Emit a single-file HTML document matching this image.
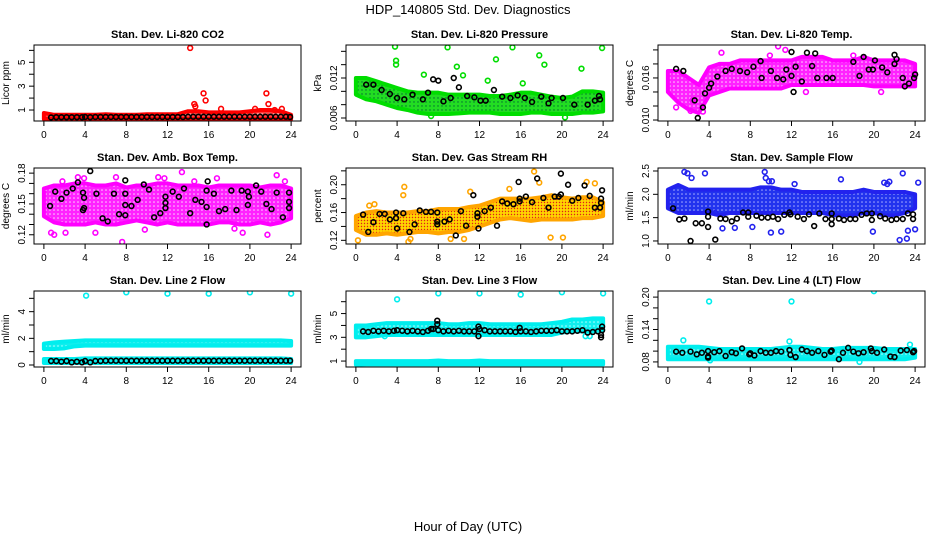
<!DOCTYPE html>
<html><head><meta charset="utf-8"><style>
html,body{margin:0;padding:0;background:#fff;}
svg{display:block;font-family:"Liberation Sans",sans-serif;}
</style></head><body>
<svg id="chart" width="936" height="540" viewBox="0 0 936 540">
<defs>
<pattern id="pt-red" width="4" height="4" patternUnits="userSpaceOnUse"><rect width="4" height="4" fill="#ff4040"/><circle cx="2" cy="2" r="0.8" fill="#fff"/></pattern>
<pattern id="pt-green" width="4" height="4" patternUnits="userSpaceOnUse"><rect width="4" height="4" fill="#22dd22"/><circle cx="2" cy="2" r="0.7" fill="#063"/></pattern>
<pattern id="pt-mag" width="4" height="4" patternUnits="userSpaceOnUse"><rect width="4" height="4" fill="#ff22ff"/><circle cx="2" cy="2" r="0.8" fill="#fbd6fb"/></pattern>
<pattern id="pt-rh" width="3" height="3" patternUnits="userSpaceOnUse"><rect width="3" height="3" fill="#ffd400"/><circle cx="1.5" cy="1.5" r="0.7" fill="#e0201a"/></pattern>
<pattern id="pt-blue" width="4" height="4" patternUnits="userSpaceOnUse"><rect width="4" height="4" fill="#2233ee"/><circle cx="2" cy="2" r="0.8" fill="#aab0ff"/></pattern>
<pattern id="pt-cyan" width="4" height="4" patternUnits="userSpaceOnUse"><rect width="4" height="4" fill="#11eeee"/><circle cx="2" cy="2" r="0.8" fill="#b8ffff"/></pattern>
</defs>
<text x="468" y="14" text-anchor="middle" font-size="13">HDP_140805  Std. Dev. Diagnostics</text>
<text x="468" y="531" text-anchor="middle" font-size="13">Hour of Day (UTC)</text>
</svg>
<script>
const HOURS=[0,1,2,3,4,5,6,7,8,9,10,11,12,13,14,15,16,17,18,19,20,21,22,23,24];
const XTICKS=[0,4,8,12,16,20,24];
// CO2
const co2Lo=[0.25,0.25,0.25,0.25,0.25,0.25,0.25,0.25,0.25,0.25,0.25,0.25,0.25,0.25,0.25,0.25,0.25,0.25,0.25,0.25,0.25,0.25,0.25,0.25,0.25];
const co2Hi=[0.75,0.6,0.6,0.6,0.6,0.6,0.65,0.6,0.6,0.6,0.65,0.65,0.65,0.65,0.9,0.9,0.8,0.8,0.8,0.8,0.9,1.0,1.0,0.9,0.6];
const co2Out=[[14.2,6.2],[14.6,1.5],[14.7,1.3],[15.5,2.4],[15.7,1.8],[21.6,2.4],[21.8,1.5],[17.2,1.1],[20.5,1.1],[22.4,1.0],[23.1,1.1]];
const lineBlackX=[0.7,1.2,1.7,2.2,2.7,3.2,3.7,4.0,4.5,5.0,5.5,6.0,6.5,7.0,7.5,8.0,8.5,9.0,9.5,10.0,10.5,11.0,11.5,12.0,12.5,13.0,13.5,14.0,14.5,15.0,15.5,16.0,16.5,17.0,17.5,18.0,18.5,19.0,19.5,20.0,20.5,21.0,21.5,22.0,22.5,23.0,23.5,23.9];
const co2BlackY=[0.38,0.4,0.4,0.4,0.4,0.4,0.4,0.42,0.4,0.42,0.42,0.42,0.42,0.42,0.42,0.42,0.42,0.42,0.42,0.42,0.42,0.42,0.42,0.42,0.42,0.42,0.42,0.44,0.44,0.44,0.44,0.44,0.44,0.44,0.44,0.44,0.44,0.44,0.44,0.44,0.44,0.44,0.44,0.44,0.44,0.44,0.44,0.42];
// Pressure
const prLo=[0.0095,0.0088,0.0085,0.008,0.0075,0.0072,0.0068,0.0066,0.0066,0.0066,0.0067,0.0068,0.0068,0.0068,0.0066,0.0066,0.0066,0.0068,0.0068,0.0066,0.0066,0.0066,0.0068,0.0068,0.007];
const prHi=[0.012,0.012,0.0115,0.011,0.0105,0.01,0.0098,0.0098,0.0098,0.0095,0.0095,0.0095,0.0095,0.0093,0.0093,0.0095,0.0098,0.0098,0.0095,0.0092,0.009,0.0092,0.01,0.01,0.0098];
const prOut=[[3.8,0.0167],[3.9,0.0146],[3.9,0.014],[8.9,0.0166],[9.8,0.0137],[10.4,0.0124],[13.6,0.0148],[15.2,0.0166],[17.8,0.0154],[23.9,0.0165],[6.6,0.0125],[21.9,0.0134],[16.2,0.0112],[2.1,0.0112],[18.3,0.014],[12.8,0.0116],[7.3,0.0063],[20.3,0.0061]];
const prBlack=[[1.0,0.011],[1.7,0.011],[2.5,0.0102],[3.3,0.0096],[4.0,0.009],[4.7,0.0088],[5.5,0.0095],[6.5,0.0088],[7.0,0.0098],[7.5,0.0118],[8.0,0.0116],[8.5,0.0085],[9.2,0.009],[10.0,0.0106],[10.8,0.0093],[11.5,0.0091],[12.1,0.0086],[12.6,0.0086],[13.4,0.0102],[14.2,0.0092],[15.0,0.009],[15.7,0.0094],[16.4,0.009],[17.1,0.0084],[18.0,0.0092],[19.0,0.009],[20.1,0.009],[21.2,0.008],[22.5,0.008],[23.2,0.0086],[23.7,0.0088],[23.6,0.0093],[9.5,0.012],[18.7,0.0082]];
// Li-820 temp
const tmLo=[0.014,0.0125,0.0115,0.011,0.0135,0.014,0.0145,0.0145,0.0145,0.0145,0.0145,0.0145,0.015,0.015,0.015,0.015,0.015,0.015,0.015,0.015,0.0148,0.0148,0.0148,0.0148,0.0148];
const tmHi=[0.017,0.017,0.016,0.015,0.0175,0.018,0.018,0.0185,0.0185,0.0185,0.0185,0.0185,0.0185,0.019,0.019,0.019,0.0185,0.0185,0.0185,0.019,0.0185,0.0185,0.0185,0.0185,0.018];
const tmOut=[[0.8,0.0118],[2.2,0.0113],[3.4,0.0112],[10.7,0.0205],[11.4,0.02],[13.4,0.014],[20.7,0.014],[5.2,0.0196],[9.9,0.0192],[18.0,0.0192],[2.4,0.0128]];
const tmBlack=[[0.8,0.0173],[1.5,0.017],[2.6,0.0128],[3.4,0.0118],[2.9,0.0103],[4.0,0.0146],[4.2,0.0152],[3.6,0.0138],[4.8,0.0162],[5.6,0.017],[6.2,0.0173],[7.0,0.017],[7.7,0.0168],[8.3,0.0176],[9.0,0.0184],[9.1,0.016],[10.0,0.017],[10.6,0.016],[11.2,0.0158],[12.0,0.0163],[12.2,0.014],[12.4,0.0176],[12.0,0.0197],[11.5,0.0172],[13.5,0.0196],[13.0,0.0155],[14.0,0.0177],[14.5,0.016],[15.4,0.016],[16.0,0.016],[18.0,0.0183],[18.6,0.0163],[19.5,0.0172],[19.9,0.0172],[20.8,0.0175],[21.3,0.0168],[22.0,0.0193],[22.0,0.018],[22.2,0.0187],[22.8,0.016],[23.4,0.0152],[24.0,0.0165],[23.0,0.0148],[20.1,0.0185],[14.3,0.0195],[19.0,0.019],[23.9,0.016]];
// Amb box temp
const abLo=[0.138,0.132,0.13,0.13,0.13,0.132,0.13,0.13,0.132,0.134,0.132,0.13,0.132,0.13,0.13,0.13,0.13,0.132,0.132,0.13,0.13,0.132,0.13,0.132,0.136];
const abHi=[0.165,0.168,0.168,0.17,0.17,0.168,0.168,0.17,0.166,0.168,0.168,0.17,0.17,0.168,0.168,0.168,0.166,0.168,0.168,0.168,0.168,0.166,0.168,0.168,0.165];
const abOut=[[0.7,0.122],[1.0,0.12],[3.3,0.176],[3.9,0.175],[7.0,0.176],[7.6,0.113],[11.1,0.176],[11.7,0.175],[13.4,0.181],[14.6,0.172],[19.3,0.122],[21.7,0.12],[22.6,0.178],[23.4,0.172],[2.1,0.122],[18.5,0.126],[5.0,0.122],[1.8,0.172],[9.8,0.125],[16.8,0.175]];
const abBlack=[[0.6,0.148],[1.1,0.162],[1.7,0.155],[2.2,0.161],[2.8,0.165],[3.3,0.171],[3.8,0.161],[3.9,0.156],[3.9,0.146],[3.8,0.144],[4.5,0.182],[5.1,0.16],[5.7,0.136],[6.2,0.133],[6.8,0.16],[7.3,0.14],[7.9,0.173],[7.9,0.16],[7.9,0.149],[7.9,0.139],[8.5,0.148],[9.1,0.154],[9.7,0.169],[10.2,0.164],[10.7,0.137],[11.3,0.141],[11.8,0.157],[11.8,0.151],[11.8,0.146],[12.5,0.162],[13.1,0.157],[13.6,0.165],[14.2,0.141],[14.7,0.154],[15.3,0.152],[15.8,0.163],[15.9,0.172],[15.8,0.147],[15.8,0.13],[16.5,0.16],[17.0,0.143],[17.6,0.145],[18.2,0.163],[18.7,0.144],[19.2,0.163],[19.8,0.162],[19.9,0.157],[19.8,0.149],[20.6,0.168],[21.1,0.162],[21.6,0.15],[22.1,0.145],[22.6,0.161],[23.2,0.137],[23.8,0.152],[23.8,0.161],[23.8,0.146]];
// RH
const rhLo=[0.135,0.128,0.128,0.13,0.128,0.13,0.132,0.132,0.13,0.132,0.132,0.135,0.14,0.145,0.15,0.152,0.15,0.148,0.15,0.15,0.15,0.15,0.152,0.152,0.155];
const rhHi=[0.155,0.16,0.162,0.16,0.16,0.16,0.162,0.162,0.165,0.165,0.165,0.168,0.17,0.175,0.18,0.18,0.18,0.18,0.182,0.185,0.182,0.18,0.182,0.182,0.175];
const rhOut=[[1.3,0.17],[1.8,0.172],[4.7,0.197],[4.6,0.185],[11.1,0.19],[17.3,0.219],[17.8,0.203],[18.9,0.124],[20.1,0.124],[22.4,0.204],[23.2,0.202],[10.5,0.122],[0.2,0.12],[5.1,0.118],[9.2,0.122],[14.9,0.194],[5.3,0.122]];
const rhBlack=[[0.7,0.157],[1.2,0.132],[1.7,0.146],[2.3,0.158],[2.8,0.158],[3.3,0.15],[3.9,0.16],[3.9,0.152],[4.0,0.137],[4.6,0.159],[5.2,0.132],[5.7,0.143],[6.2,0.163],[6.8,0.161],[7.3,0.161],[7.9,0.16],[7.9,0.147],[7.9,0.143],[8.6,0.147],[9.1,0.15],[9.7,0.127],[10.2,0.162],[10.7,0.141],[11.4,0.185],[11.8,0.159],[11.9,0.137],[11.8,0.154],[12.5,0.162],[13.1,0.167],[13.7,0.141],[14.2,0.176],[14.7,0.173],[15.3,0.172],[15.8,0.204],[15.9,0.18],[15.9,0.176],[16.5,0.183],[17.1,0.175],[17.6,0.209],[18.2,0.181],[18.7,0.167],[19.3,0.183],[19.9,0.216],[19.9,0.186],[19.7,0.183],[20.6,0.2],[21.0,0.177],[21.6,0.181],[22.2,0.199],[22.7,0.184],[23.2,0.167],[23.7,0.167],[23.8,0.174],[23.8,0.18],[23.9,0.192]];
// Sample flow
const sfLo=[1.7,1.6,1.6,1.6,1.6,1.55,1.6,1.6,1.6,1.6,1.6,1.6,1.6,1.6,1.6,1.6,1.55,1.55,1.55,1.6,1.6,1.55,1.55,1.6,1.7];
const sfHi=[2.1,2.2,2.1,2.1,2.1,2.1,2.1,2.1,2.1,2.15,2.15,2.1,2.1,2.05,2.05,2.05,2.05,2.05,2.05,2.1,2.05,2.05,2.05,2.05,2.0];
const sfOut=[[1.6,2.48],[1.9,2.45],[2.3,2.35],[3.6,2.45],[9.4,2.48],[9.5,2.35],[9.8,2.28],[10.1,2.28],[12.3,2.22],[16.8,2.32],[21.0,2.25],[21.3,2.22],[22.8,2.45],[21.5,2.27],[24.3,2.25],[10.0,1.18],[11.0,1.2],[19.9,1.2],[23.2,1.05],[24.0,1.25],[6.5,1.28],[8.2,1.3],[4.6,1.6],[22.5,1.02],[23.3,1.22],[5.3,1.27]];
const sfBlack=[[0.5,1.7],[1.1,1.46],[1.6,1.48],[2.2,1.0],[2.7,1.38],[3.3,1.38],[3.9,1.3],[3.9,1.63],[3.9,1.52],[4.6,1.03],[5.1,1.48],[5.6,1.47],[6.2,1.42],[6.7,1.48],[7.3,1.61],[7.8,1.61],[7.8,1.52],[8.6,1.54],[9.1,1.5],[9.7,1.5],[10.2,1.52],[10.7,1.47],[11.3,1.56],[11.8,1.61],[11.9,1.57],[12.6,1.52],[13.2,1.47],[13.7,1.57],[14.2,1.32],[14.7,1.59],[15.3,1.47],[15.9,1.47],[15.9,1.36],[15.9,1.59],[16.6,1.48],[17.1,1.45],[17.7,1.47],[18.2,1.47],[18.8,1.56],[19.3,1.59],[19.8,1.59],[19.8,1.45],[20.6,1.53],[21.1,1.48],[21.7,1.45],[22.2,1.47],[22.8,1.47],[23.3,1.59],[23.8,1.57],[23.8,1.47]];
// Line 2
const l2Lo=[1.2,1.2,1.25,1.4,1.45,1.45,1.45,1.45,1.45,1.45,1.45,1.45,1.45,1.45,1.45,1.45,1.45,1.45,1.45,1.45,1.45,1.45,1.45,1.45,1.45];
const l2Hi=[1.6,1.7,1.75,1.8,1.85,1.85,1.85,1.85,1.85,1.85,1.85,1.85,1.85,1.85,1.85,1.85,1.85,1.85,1.85,1.85,1.85,1.85,1.85,1.85,1.8];
const l2Lo2=[0.15,0.15,0.15,0.15,0.15,0.15,0.15,0.15,0.15,0.15,0.15,0.15,0.15,0.15,0.15,0.15,0.15,0.15,0.15,0.15,0.15,0.15,0.15,0.15,0.15];
const l2Hi2=[0.45,0.45,0.45,0.45,0.5,0.5,0.5,0.5,0.5,0.5,0.5,0.5,0.5,0.5,0.5,0.5,0.5,0.5,0.5,0.5,0.5,0.5,0.5,0.5,0.45];
const l2Out=[[4.1,5.2],[8.0,5.45],[12.0,5.35],[16.0,5.35],[20.0,5.45],[24.0,5.35]];
const l2BlackY=[0.3,0.3,0.25,0.3,0.2,0.25,0.2,0.3,0.2,0.3,0.3,0.32,0.32,0.32,0.32,0.32,0.32,0.32,0.32,0.32,0.32,0.32,0.32,0.32,0.32,0.32,0.32,0.32,0.32,0.32,0.32,0.32,0.32,0.32,0.32,0.32,0.32,0.32,0.32,0.32,0.32,0.32,0.32,0.32,0.32,0.32,0.32,0.32];
// Line 3
const l3Lo=[3.0,3.0,3.1,3.2,3.2,3.2,3.2,3.2,3.2,3.2,3.2,3.2,3.2,3.2,3.2,3.2,3.2,3.2,3.2,3.2,3.4,3.5,3.5,3.5,3.6];
const l3Hi=[4.0,4.0,4.1,4.2,4.2,4.2,4.2,4.2,4.2,4.1,4.1,4.2,4.2,4.1,4.1,4.1,4.1,4.1,4.1,4.2,4.3,4.5,4.5,4.6,4.6];
const l3Lo2=[0.7,0.72,0.72,0.72,0.72,0.72,0.72,0.72,0.72,0.72,0.72,0.72,0.72,0.72,0.72,0.72,0.72,0.72,0.72,0.72,0.72,0.72,0.72,0.72,0.72];
const l3Hi2=[1.0,1.0,1.0,1.0,1.0,1.0,1.0,1.0,1.05,1.0,1.0,1.0,1.05,1.0,1.0,1.0,1.0,1.0,1.0,1.0,1.0,1.0,1.0,1.0,1.0];
const l3Out=[[4.0,6.2],[8.0,6.7],[12.0,6.7],[16.0,6.6],[20.0,6.8],[24.0,6.7],[22.3,3.1],[22.7,3.1],[2.8,3.1]];
const l3BlackY=[3.5,3.45,3.55,3.5,3.55,3.5,3.55,3.6,3.55,3.5,3.55,3.5,3.45,3.55,3.7,3.6,3.5,3.55,3.5,3.55,3.5,3.5,3.5,3.7,3.6,3.5,3.5,3.5,3.5,3.5,3.45,3.5,3.5,3.45,3.5,3.55,3.55,3.55,3.6,3.5,3.5,3.5,3.55,3.6,3.4,3.45,3.5,3.6];
const l3Extra=[[7.9,4.4],[7.9,4.1],[11.9,3.1],[11.9,3.9],[15.9,3.8],[23.8,3.0],[23.8,3.2],[23.9,3.9],[7.3,3.7]];
// Line 4
const l4Lo=[0.085,0.085,0.085,0.085,0.085,0.085,0.085,0.085,0.085,0.085,0.085,0.085,0.085,0.085,0.085,0.085,0.085,0.085,0.085,0.085,0.085,0.085,0.085,0.085,0.088];
const l4Hi=[0.108,0.108,0.108,0.108,0.106,0.104,0.104,0.104,0.104,0.104,0.104,0.106,0.108,0.108,0.106,0.104,0.104,0.106,0.106,0.106,0.106,0.104,0.104,0.104,0.104];
const l4Out=[[4.0,0.192],[12.0,0.192],[20.0,0.211],[1.5,0.12],[11.8,0.118],[4.1,0.083],[18.6,0.08],[23.5,0.112]];
const l4Black=[[0.8,0.099],[1.4,0.097],[2.2,0.099],[2.8,0.094],[3.3,0.097],[3.9,0.1],[3.9,0.088],[3.9,0.09],[4.5,0.098],[5.0,0.1],[5.6,0.091],[6.2,0.098],[6.6,0.096],[7.2,0.105],[7.9,0.094],[8.0,0.096],[8.4,0.092],[9.0,0.1],[9.5,0.097],[10.0,0.097],[10.5,0.1],[11.0,0.099],[11.8,0.102],[11.9,0.093],[12.4,0.089],[13.0,0.103],[13.5,0.1],[14.0,0.097],[14.6,0.1],[15.2,0.093],[15.8,0.099],[15.9,0.101],[16.6,0.085],[17.0,0.097],[17.5,0.106],[18.0,0.099],[18.5,0.096],[19.0,0.098],[19.7,0.105],[19.8,0.1],[20.3,0.097],[21.0,0.103],[21.6,0.09],[22.0,0.089],[22.6,0.101],[23.2,0.102],[23.8,0.098],[23.9,0.1]];

const NS='http://www.w3.org/2000/svg';
const svg=document.getElementById('chart');
function mk(tag,attrs,parent){const e=document.createElementNS(NS,tag);for(const k in attrs)e.setAttribute(k,attrs[k]);(parent||svg).appendChild(e);return e;}
const colL=[34,346,658], rowT=[45,168,291], W=267, H=76;
const panels=[
 {name:'co2',title:'Stan. Dev. Li-820 CO2',yl:'Licor ppm',yd:[0.08,6.45],ticks:[1,2,3,4,5,6],labs:[1,3,5],fmt:v=>String(v),col:'#f00',pat:'pt-red',bands:[[co2Lo,co2Hi]],out:co2Out,black:lineBlackX.map((x,i)=>[x,co2BlackY[i]])},
 {name:'pressure',title:'Stan. Dev. Li-820 Pressure',yl:'kPa',yd:[0.00555,0.01695],ticks:[0.006,0.008,0.01,0.012,0.014,0.016],labs:[0.006,0.012],fmt:v=>v.toFixed(3),col:'#0d0',pat:'pt-green',bands:[[prLo,prHi]],out:prOut,black:prBlack},
 {name:'li820-temp',title:'Stan. Dev. Li-820 Temp.',yl:'degrees C',yd:[0.00986,0.0207],ticks:[0.010,0.012,0.014,0.016,0.018,0.020],labs:[0.010,0.016],fmt:v=>v.toFixed(3),col:'#f0f',pat:'pt-mag',bands:[[tmLo,tmHi]],out:tmOut,black:tmBlack},
 {name:'amb-box-temp',title:'Stan. Dev. Amb. Box Temp.',yl:'degrees C',yd:[0.111,0.185],ticks:[0.12,0.13,0.14,0.15,0.16,0.17,0.18],labs:[0.12,0.15,0.18],fmt:v=>v.toFixed(2),col:'#f0f',pat:'pt-mag',bands:[[abLo,abHi]],out:abOut,black:abBlack},
 {name:'gas-stream-rh',title:'Stan. Dev. Gas Stream RH',yl:'percent',yd:[0.1147,0.2241],ticks:[0.12,0.14,0.16,0.18,0.2,0.22],labs:[0.12,0.16,0.2],fmt:v=>v.toFixed(2),col:'#ffa500',pat:'pt-rh',bands:[[rhLo,rhHi]],out:rhOut,black:rhBlack},
 {name:'sample-flow',title:'Stan. Dev. Sample Flow',yl:'ml/min',yd:[0.935,2.564],ticks:[1,1.5,2,2.5],labs:[1,1.5,2,2.5],fmt:v=>v.toFixed(1),col:'#22e',pat:'pt-blue',bands:[[sfLo,sfHi]],out:sfOut,black:sfBlack},
 {name:'line2-flow',title:'Stan. Dev. Line 2 Flow',yl:'ml/min',yd:[-0.15,5.55],ticks:[0,1,2,3,4,5],labs:[0,2,4],fmt:v=>String(v),col:'#0ee',pat:'pt-cyan',bands:[[l2Lo,l2Hi],[l2Lo2,l2Hi2]],out:l2Out,black:lineBlackX.map((x,i)=>[x,l2BlackY[i]])},
 {name:'line3-flow',title:'Stan. Dev. Line 3 Flow',yl:'ml/min',yd:[0.5,6.9],ticks:[1,2,3,4,5,6],labs:[1,3,5],fmt:v=>String(v),col:'#0ee',pat:'pt-cyan',bands:[[l3Lo,l3Hi],[l3Lo2,l3Hi2]],out:l3Out,black:lineBlackX.map((x,i)=>[x,l3BlackY[i]]).concat(l3Extra)},
 {name:'line4-flow',title:'Stan. Dev. Line 4 (LT) Flow',yl:'ml/min',yd:[0.0706,0.2113],ticks:[0.08,0.1,0.12,0.14,0.16,0.18,0.2],labs:[0.08,0.14,0.2],fmt:v=>v.toFixed(2),col:'#0ee',pat:'pt-cyan',bands:[[l4Lo,l4Hi]],out:l4Out,black:l4Black}
];
panels.forEach((p,i)=>{
  const L=colL[i%3], T=rowT[Math.floor(i/3)], B=T+H, R=L+W;
  const g=mk('g',{});
  
  
  const xs=v=>L+(v+0.96)/25.92*W;
  const ys=v=>B-(v-p.yd[0])/(p.yd[1]-p.yd[0])*H;
  const clip='clip'+i;
  const cp=mk('clipPath',{id:clip},g); mk('rect',{x:L,y:T,width:W,height:H},cp);
  const t=mk('text',{x:(L+R)/2,y:T-7,'text-anchor':'middle','font-size':11,'font-weight':'bold'},g); t.textContent=p.title;
  
  
  const plot=mk('g',{'clip-path':'url(#'+clip+')'},g);
  p.bands.forEach(([lo,hi])=>{
    let pts=HOURS.map((h,k)=>[xs(h),ys(hi[k])]);
    pts=pts.concat(HOURS.map((h,k)=>[xs(h),ys(lo[k])]).reverse());
    const poly=mk('polygon',{points:pts.map(q=>q.join(',')).join(' '),fill:'url(#'+p.pat+')',stroke:p.col,'stroke-width':4,'stroke-linejoin':'round'},plot);
    
    
  });
  p.out.forEach(([x,y])=>{
    const c=mk('circle',{cx:xs(x),cy:ys(y),r:2.4,fill:'none',stroke:p.col,'stroke-width':1.6},plot);
    
    
  });
  p.black.forEach(([x,y])=>{
    const c=mk('circle',{cx:xs(x),cy:ys(y),r:2.4,fill:'none',stroke:'#000','stroke-width':1.6},plot);
    
    
  });
  const box=mk('rect',{x:L,y:T,width:W,height:H,fill:'none',stroke:'#000','stroke-width':1},g);
  
  
  XTICKS.forEach(v=>{
    mk('line',{x1:xs(v),x2:xs(v),y1:B,y2:B+5,stroke:'#000'},g);
    const tx=mk('text',{x:xs(v),y:B+17,'text-anchor':'middle','font-size':10},g); tx.textContent=v;
    
    
  });
  p.ticks.forEach(v=>{mk('line',{x1:L-5,x2:L,y1:ys(v),y2:ys(v),stroke:'#000'},g);});
  p.labs.forEach(v=>{
    const tx=mk('text',{x:L-9,y:ys(v),'text-anchor':'middle','font-size':10,transform:'rotate(-90 '+(L-9)+' '+ys(v)+')'},g); tx.textContent=p.fmt(v);
    
    
  });
  const yl=mk('text',{x:L-25,y:(T+B)/2,'text-anchor':'middle','font-size':10,transform:'rotate(-90 '+(L-25)+' '+((T+B)/2)+')'},g); yl.textContent=p.yl;
  
  
});
</script>
</body></html>
